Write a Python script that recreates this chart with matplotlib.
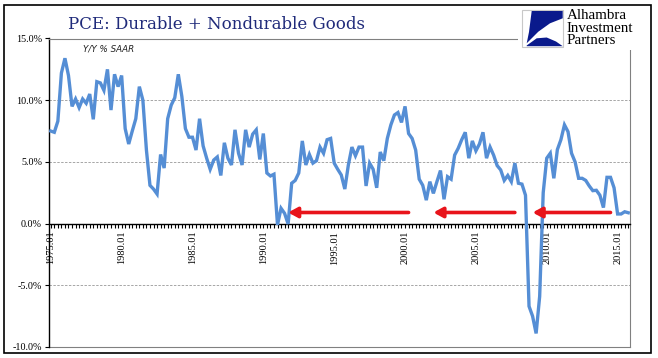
import matplotlib
matplotlib.use('Agg')
import matplotlib.pyplot as plt
from matplotlib.patches import Rectangle, Polygon

# ---------------- data ----------------
years = list(range(1975, 2016))
quarter_labels = [f"{y}.{q:02d}" for y in years for q in (1, 2, 3, 4)]
tick_labels = ["1975.01", "1980.01", "1985.01", "1990.01", "1995.01",
               "2000.01", "2005.01", "2010.01", "2015.01"]
pce_yoy = [
    7.5, 7.4, 8.3, 12.2, 13.4, 12.0, 9.5, 10.1, 9.4, 10.1,
    9.75, 10.5, 8.45, 11.5, 11.4, 10.8, 12.5, 9.2, 12.1, 11.1,
    12.0, 7.7, 6.45, 7.5, 8.5, 11.1, 10.0, 5.96, 3.1, 2.8,
    2.4, 5.6, 4.5, 8.5, 9.6, 10.2, 12.1, 10.3, 7.7, 7.0,
    7.0, 5.96, 8.5, 6.3, 5.3, 4.4, 5.15, 5.4, 3.9, 6.55,
    5.3, 4.75, 7.6, 5.7, 4.75, 7.6, 6.2, 7.25, 7.6, 5.2,
    7.3, 4.1, 3.86, 4.0, -0.1, 1.24, 0.83, -0.03, 3.27, 3.5,
    4.1, 6.7, 4.75, 5.6, 4.9, 5.1, 6.2, 5.7, 6.8, 6.9,
    4.9, 4.4, 3.94, 2.8, 4.75, 6.2, 5.5, 6.2, 6.2, 3.05,
    4.9, 4.4, 2.9, 5.8, 5.1, 6.9, 8.0, 8.8, 9.0, 8.2,
    9.5, 7.3, 6.9, 5.96, 3.6, 3.1, 1.9, 3.4, 2.45, 3.4,
    4.3, 1.97, 3.8, 3.6, 5.55, 6.1, 6.8, 7.4, 5.3, 6.7,
    5.9, 6.45, 7.4, 5.3, 6.2, 5.55, 4.7, 4.35, 3.5, 3.9,
    3.4, 4.9, 3.27, 3.2, 2.3, -6.7, -7.5, -8.9, -5.9, 2.5,
    5.3, 5.7, 3.67, 6.0, 6.8, 8.0, 7.45, 5.7, 5.0, 3.67,
    3.67, 3.5, 3.05, 2.67, 2.7, 2.3, 1.3, 3.75, 3.75, 2.9,
    0.78, 0.78, 0.96, 0.88,
]
quarters = quarter_labels[:len(pce_yoy)]
# annotation arrows: (tail quarter, head quarter, level %)
arrows = [("2000.02", "1991.04", 0.9), ("2007.04", "2002.01", 0.9),
          ("2014.03", "2009.01", 0.9)]

# ---------------- figure ----------------
W, H = 658, 358
fig = plt.figure(figsize=(W / 100, H / 100), dpi=100)

def fx(x):
    return x / W

def fy(y):
    return 1 - y / H

ax = fig.add_axes([fx(49), fy(347), fx(630) - fx(49), fy(38.5) - fy(347)])

# spines first (set_position resets tick objects)
ax.spines['bottom'].set_position(('data', 0))
ax.spines['bottom'].set_color('black')
ax.spines['bottom'].set_linewidth(1.0)
ax.spines['left'].set_color('black')
ax.spines['left'].set_linewidth(1.0)
for s in ('top', 'right'):
    ax.spines[s].set_color('#808080')
    ax.spines[s].set_linewidth(0.8)

xs = list(range(len(quarters)))
ax.plot(xs, pce_yoy, color='#558ED5', lw=2.4, solid_joinstyle='miter', zorder=3)

ax.set_xlim(-0.5, len(quarters) - 0.5)
ax.set_ylim(-10, 15)

yt = [-10, -5, 0, 5, 10, 15]
ax.set_yticks(yt)
ax.set_yticklabels([f"{v:.1f}%" for v in yt], family='Liberation Serif', fontsize=7.3)
for v in (-5, 5, 10):
    ax.axhline(v, color='#A6A6A6', lw=0.7, ls=(0, (2.5, 1.5)), zorder=1)
ax.axhline(-10, color='#808080', lw=0.8, clip_on=False, zorder=2)

major_idx = [quarters.index(t) for t in tick_labels]
ax.set_xticks(xs, minor=True)
ax.set_xticks(major_idx)
ax.set_xticklabels(tick_labels, family='Liberation Serif', fontsize=7.5,
                   rotation=90, va='top', ha='center')
ax.tick_params(axis='x', which='both', direction='out', length=3.2, width=0.8,
               pad=2, colors='black')
ax.tick_params(axis='y', which='major', direction='out', length=3, width=0.8, pad=2)

for tail, head, lvl in arrows:
    ax.annotate('', xy=(quarters.index(head), lvl), xytext=(quarters.index(tail), lvl),
                arrowprops=dict(arrowstyle='-|>,head_length=0.55,head_width=0.3',
                                color='#E8141B', lw=2.6, shrinkA=0, shrinkB=0),
                zorder=4)

ax.text(fx(83), fy(49), 'Y/Y % SAAR', transform=fig.transFigure, fontsize=6.3,
        style='italic', family='DejaVu Sans', va='center', ha='left', color='#222222')

# title
fig.text(fx(68), fy(29), 'PCE: Durable + Nondurable Goods', family='DejaVu Serif',
         fontsize=12.0, color='#1F2A7A', va='baseline', ha='left')

# logo area (white block hiding the frame corner)
fig.patches.append(Rectangle((fx(518), fy(50)), fx(650) - fx(518), fy(6) - fy(50),
                             transform=fig.transFigure, facecolor='white',
                             edgecolor='none', zorder=5))
fig.patches.append(Rectangle((fx(522), fy(46.5)), fx(563) - fx(522), fy(10) - fy(46.5),
                             transform=fig.transFigure, facecolor='white',
                             edgecolor='#C8C8C8', lw=0.8, zorder=6))
upper = [(531.7, 11), (562.7, 11), (562.7, 18.3), (550, 23.3), (538.3, 31.7),
         (526.7, 43.3), (529, 32)]
lower = [(526.7, 45.5), (536.7, 38.3), (546.7, 37.5), (556, 41.5), (562.7, 46.2),
         (526.7, 46.2)]
for poly in (upper, lower):
    fig.patches.append(Polygon([(fx(x), fy(y)) for x, y in poly], closed=True,
                               transform=fig.transFigure, facecolor='#0A1A8C',
                               edgecolor='none', zorder=7))
for i, word in enumerate(['Alhambra', 'Investment', 'Partners']):
    fig.text(fx(567), fy(19 + i * 12.5), word, family='Liberation Serif', fontsize=10.8,
             color='black', va='baseline', ha='left', zorder=8)

# outer frame
fig.patches.append(Rectangle((fx(4), fy(353)), fx(651) - fx(4), fy(5) - fy(353),
                             transform=fig.transFigure, facecolor='none',
                             edgecolor='black', lw=1.2, zorder=9))

fig.savefig('out.png', dpi=100)
